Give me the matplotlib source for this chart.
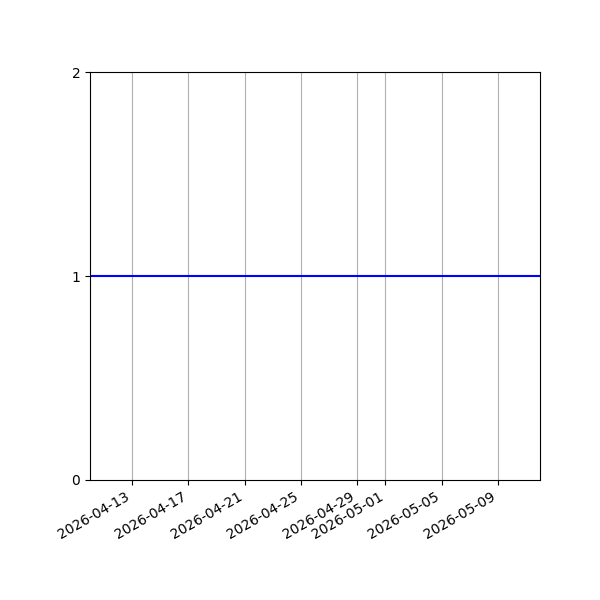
import matplotlib
matplotlib.use("Agg")
import matplotlib.pyplot as plt
import numpy as np
import pandas as pd

dates = pd.date_range("2026-04-10", "2026-05-12", freq="D")
values = [1] * len(dates)
yticks = [0, 1, 2]

fig, ax = plt.subplots(figsize=(6, 6), dpi=100)
ax.plot(dates, values, color="blue", linewidth=1.5)
ax.set_xlim(dates[0], dates[-1])
ax.set_ylim(0, 2)
ax.set_yticks(yticks)
ax.grid(True, axis="x")
fig.autofmt_xdate()
fig.subplots_adjust(left=0.15, right=0.9, top=0.88, bottom=0.2)
fig.savefig("out.png", dpi=100)
